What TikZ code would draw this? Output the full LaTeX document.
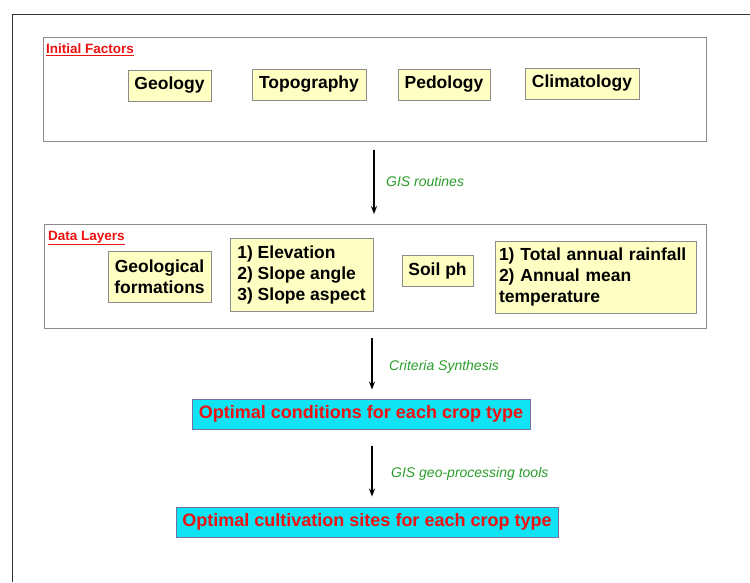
\documentclass[tikz,border=0pt]{standalone}
\usepackage{fontspec}
\setmainfont{Liberation Sans}
\usetikzlibrary{arrows.meta,calc}
\definecolor{boxyellow}{HTML}{FFFFC4}
\definecolor{boxcyan}{HTML}{10E4F4}
\definecolor{titlered}{HTML}{EE1111}
\definecolor{labelgreen}{HTML}{2A9E2A}
\definecolor{framegray}{HTML}{8C8C8C}
\tikzset{
  group/.style={draw=framegray, line width=0.9pt, fill=white, inner sep=0pt},
  ybox/.style={draw=framegray, line width=0.9pt, fill=boxyellow, inner sep=0pt,
    font=\fontsize{17.5}{21}\selectfont\bfseries},
  cbox/.style={draw=framegray!80!blue, line width=0.9pt, fill=boxcyan, inner sep=0pt,
    text=titlered, font=\fontsize{18}{21}\selectfont\bfseries},
  gtitle/.style={anchor=west, inner sep=0pt, text=titlered,
    font=\fontsize{13.5}{16}\selectfont\bfseries},
  steplabel/.style={anchor=west, inner sep=0pt, text=labelgreen,
    font=\fontsize{14}{16}\selectfont\itshape},
  arr/.style={-{Stealth[length=8pt,width=6pt]}, line width=1.8pt}
}
\begin{document}
\begin{tikzpicture}[x=1pt,y=1pt]
\useasboundingbox (0,-582) rectangle (750,0);
\fill[white] (0,-582) rectangle (750,0);
\draw[line width=1pt, black!80] (750,-14) -- (12,-14) -- (12,-582);

% Initial factors group
\node[group, minimum width=663pt, minimum height=104pt] (ifbox) at (374.5,-89) {};
\node[gtitle] (iftitle) at (46,-50) {\underline{Initial Factors}};
\node[ybox, minimum width=83pt, minimum height=31pt] (geo) at (169.5,-85.5) {Geology};
\node[ybox, minimum width=114pt, minimum height=31pt] (topo) at (309,-84.5) {Topography};
\node[ybox, minimum width=92pt, minimum height=31pt] (pedo) at (444,-84.5) {Pedology};
\node[ybox, minimum width=114pt, minimum height=31pt] (clim) at (582,-83.5) {Climatology};

% Data layers group
\node[group, minimum width=661.5pt, minimum height=103.5pt] (dlbox) at (375.25,-276.25) {};
\node[gtitle] (dltitle) at (48,-238) {\underline{Data Layers}};
\node[ybox, minimum width=103pt, minimum height=51pt, align=center] (geoform) at (159.5,-276.5) {Geological\\formations};
\node[ybox, minimum width=143pt, minimum height=73pt, align=left] (elev) at (301.5,-274.5) {1) Elevation\\2) Slope angle\\3) Slope aspect};
\node[ybox, minimum width=71pt, minimum height=31pt] (soil) at (437.5,-270.5) {Soil ph};
\node[ybox, minimum width=201pt, minimum height=72pt, align=left, text width=193pt] (rain) at (595.5,-277) {1) Total annual rainfall\\2) Annual mean\\temperature};

% Results
\node[cbox, minimum width=338pt, minimum height=30pt] (cond) at (361,-414) {Optimal conditions for each crop type};
\node[cbox, minimum width=382pt, minimum height=30pt] (sites) at (367,-522) {Optimal cultivation sites for each crop type};

% Arrows
\coordinate (a1s) at (374,-150);
\coordinate (a2s) at (372,-338);
\coordinate (a3s) at (372,-446);
\draw[arr, shorten >=10pt] (a1s) -- (a1s |- dlbox.north);
\draw[arr, shorten >=9pt] (a2s) -- (a2s |- cond.north);
\draw[arr, shorten >=10pt] (a3s) -- (a3s |- sites.north);

\node[steplabel] (l1) at (386,-181) {GIS routines};
\node[steplabel] (l2) at (389,-367) {Criteria Synthesis};
\node[steplabel] (l3) at (391,-474) {GIS geo-processing tools};
\end{tikzpicture}
\end{document}
